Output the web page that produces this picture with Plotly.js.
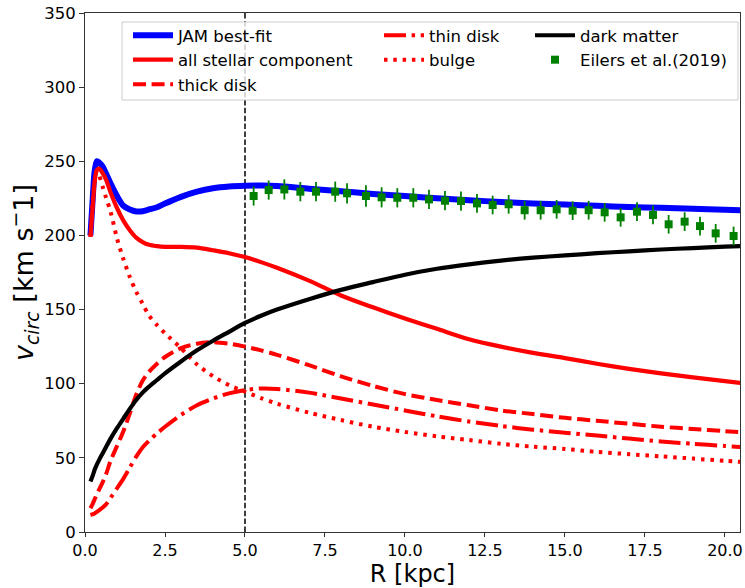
<!DOCTYPE html>
<html>
<head>
<meta charset="utf-8">
<script src="https://cdn.plot.ly/plotly-3.0.1.min.js"></script>
<style>
  html, body { margin: 0; padding: 0; background: #fff; }
  #chart { width: 745px; height: 588px; }
</style>
</head>
<body>
<div id="chart"></div>
<script>
// Galactocentric radius grid for the model curves [kpc]
const R = [0.17, 0.25, 0.3, 0.37, 0.45, 0.55, 0.65, 0.8, 1.0, 1.2, 1.4, 1.6, 1.8, 2.0, 2.25, 2.5, 3.0, 3.5, 4.0, 4.5, 5.0, 5.5, 6.0, 7.0, 8.0, 9.0, 10, 11, 12, 13, 14, 15, 16, 17, 18, 19, 20, 20.5];

// Circular velocity of each model component [km/s]
const vJAM     = [200, 228, 243, 250, 249, 246.5, 242, 235, 226.5, 220, 217.5, 216.2, 216.3, 217.5, 219, 221.5, 226, 229.5, 231.8, 233, 233.5, 233.6, 233.3, 231.5, 229.8, 228, 226.6, 225, 223.8, 222.5, 221.6, 220.8, 220, 219.2, 218.6, 218, 217.4, 217];
const vStellar = [199, 222, 236, 244, 245, 242, 238, 229, 218.5, 210, 203.5, 198.5, 195.5, 193.7, 192.8, 192.3, 192.3, 191.8, 190, 188, 185.4, 182, 178.2, 169.5, 159.5, 151.5, 144, 137, 130, 125, 120.8, 117.3, 113.5, 110, 107, 104.3, 101.7, 100.5];
const vThick   = [16, 19.5, 22, 25.5, 29, 33.5, 38.5, 48, 58, 68, 80, 92.5, 102, 108, 113.5, 118, 124, 127, 128, 127, 125, 122.5, 119.5, 112.5, 105, 98.5, 93, 89, 85.5, 82, 79.5, 77, 75, 73, 71, 69.5, 68, 67.4];
const vThin    = [11.5, 12, 12.5, 13.5, 14.8, 16.5, 18.5, 23, 29.5, 36, 43.5, 50.8, 57, 61.5, 66.5, 71, 79, 85.5, 90, 93.5, 95.7, 96.8, 96.5, 94, 90, 86, 82, 78, 74.5, 71.5, 69, 67, 65, 63, 61, 59.5, 58, 57.3];
const vBulge   = [199, 226, 236, 244, 240, 233, 226, 216, 198, 184, 172, 162, 154, 146, 139.5, 134, 124, 113, 105, 99, 94.6, 90.3, 86.5, 80.5, 75.5, 71, 67.5, 64.5, 62, 59.5, 57.5, 56, 54, 52.5, 51, 49.5, 48, 47.3];
const vDM      = [34, 38.5, 42, 45.5, 49, 53, 57, 63, 70, 76.5, 83, 89, 94, 98, 102.5, 107, 115, 122.5, 129, 135, 141, 145.8, 150, 157, 163.3, 168.5, 173.5, 177.5, 180.5, 183, 185, 186.5, 188, 189.3, 190.5, 191.5, 192.4, 192.8];

// Eilers et al. (2019) rotation curve measurements
const eilersR   = [5.27, 5.74, 6.23, 6.73, 7.22, 7.82, 8.19, 8.78, 9.27, 9.76, 10.26, 10.75, 11.25, 11.75, 12.25, 12.74, 13.24, 13.74, 14.24, 14.74, 15.24, 15.74, 16.24, 16.74, 17.25, 17.75, 18.24, 18.74, 19.22, 19.71, 20.27];
const eilersV   = [226.6, 230.6, 231.0, 229.5, 229.5, 229.5, 228.4, 226.6, 225.7, 225.4, 225.4, 224.3, 223.4, 223.2, 221.6, 220.5, 221.0, 217.0, 217.0, 217.6, 216.7, 217.0, 215.6, 212.2, 216.0, 213.8, 207.5, 209.3, 206.3, 201.4, 199.6];
const eilersErr = [6.5, 6.5, 6.8, 6.5, 6.5, 6.8, 6.8, 7.2, 6.8, 6.5, 6.5, 6.5, 6.5, 6.5, 6.3, 6.3, 6.3, 6.3, 6.3, 6.3, 6.3, 6.3, 6.3, 6.3, 6.3, 6.3, 6.3, 6.3, 6.3, 6.3, 6.3];

// Radius of the vertical reference line [kpc]
const rCut = 5.0;

const FONT = 'DejaVu Sans, Liberation Sans, sans-serif';

function curve(name, y, color, width, dash, legend, rank) {
  return {
    type: 'scatter', mode: 'lines', name: name, x: R, y: y,
    line: {color: color, width: width, dash: dash, shape: 'spline', smoothing: 0.8},
    legend: legend, legendrank: rank, legendgroup: name
  };
}

const traces = [
  curve('JAM best-fit', vJAM, '#0000ff', 6, 'solid', 'legend', 1),
  curve('all stellar component', vStellar, '#ff0000', 4.2, 'solid', 'legend', 2),
  curve('thick disk', vThick, '#ff0000', 4, '13px,5.6px', 'legend', 3),
  curve('thin disk', vThin, '#ff0000', 4, '22px,5.6px,3.5px,5.6px', 'legend2', 4),
  curve('bulge', vBulge, '#ff0000', 4, '3.5px,5.8px', 'legend2', 5),
  curve('dark matter', vDM, '#000000', 4.2, 'solid', 'legend3', 6),
  {
    type: 'scatter', mode: 'markers', name: 'Eilers et al.(2019)',
    x: eilersR, y: eilersV,
    marker: {symbol: 'square', size: 8, color: '#008000'},
    error_y: {type: 'data', array: eilersErr, visible: true, color: '#008000', thickness: 1.8, width: 0},
    legend: 'legend3', legendrank: 7, legendgroup: 'eilers'
  }
];

const legendCommon = {
  bgcolor: 'rgba(0,0,0,0)', borderwidth: 0,
  font: {family: FONT, size: 16.5, color: '#000'},
  xanchor: 'left', yanchor: 'top',
  itemwidth: 40, traceorder: 'grouped', tracegroupgap: 0,
  itemclick: false, itemdoubleclick: false
};

const legendTop = (532 - 18) / 519;

const layout = {
  width: 745, height: 588,
  margin: {l: 85, r: 5, t: 13, b: 56},
  paper_bgcolor: '#fff', plot_bgcolor: '#fff',
  font: {family: FONT, size: 16.5, color: '#000'},
  showlegend: true,
  xaxis: {
    range: [0, 20.47], dtick: 2.5, tick0: 0, tickformat: '.1f',
    showgrid: false, zeroline: false,
    showline: true, linecolor: '#333', linewidth: 1, mirror: true,
    ticks: 'outside', ticklen: 4, tickwidth: 1, tickcolor: '#333',
    tickfont: {family: FONT, size: 16, color: '#000'},
    title: {text: 'R [kpc]', font: {family: FONT, size: 24, color: '#000'}, standoff: 0}
  },
  yaxis: {
    range: [0, 350], dtick: 50, tick0: 0,
    showgrid: false, zeroline: false,
    showline: true, linecolor: '#333', linewidth: 1, mirror: true,
    ticks: 'outside', ticklen: 5, tickwidth: 1, tickcolor: '#333',
    tickfont: {family: FONT, size: 16.5, color: '#000'},
    title: {
      text: '<i>v</i><sub><i>circ</i></sub> [km s<sup>\u2212</sup>1]',
      font: {family: FONT, size: 27, color: '#000'}, standoff: 2
    }
  },
  legend:  Object.assign({}, legendCommon, {x: (128 - 85) / 655, y: legendTop}),
  legend2: Object.assign({}, legendCommon, {x: (379 - 85) / 655, y: legendTop}),
  legend3: Object.assign({}, legendCommon, {x: (530 - 85) / 655, y: legendTop}),
  shapes: [
    {
      type: 'line', xref: 'x', yref: 'paper', x0: rCut, x1: rCut, y0: 0, y1: 1,
      line: {color: '#000', width: 1.5, dash: '5.5px,2.4px'}, layer: 'below'
    },
    {
      type: 'rect', xref: 'paper', yref: 'paper',
      x0: (122 - 85) / 655, x1: (738 - 85) / 655,
      y0: (532 - 100) / 519, y1: (532 - 22) / 519,
      line: {color: '#cccccc', width: 1}, fillcolor: 'rgba(255,255,255,0.8)', layer: 'above'
    }
  ]
};

Plotly.newPlot('chart', traces, layout, {displayModeBar: false, staticPlot: true});
</script>
</body>
</html>
